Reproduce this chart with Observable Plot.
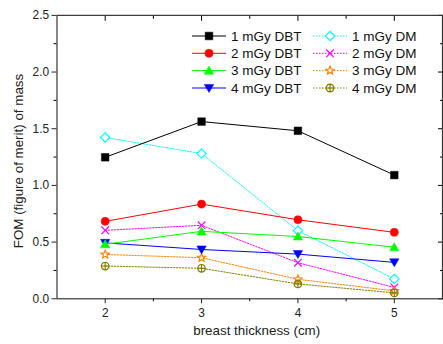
<!DOCTYPE html>
<html><head><meta charset="utf-8">
<script src="https://cdn.jsdelivr.net/npm/d3@7"></script>
<script src="https://cdn.jsdelivr.net/npm/@observablehq/plot@0.6"></script>
<style>
html,body{margin:0;padding:0;overflow:hidden;background:#fff;}
#chart{position:relative;width:443px;height:344px;overflow:hidden;font-family:"Liberation Sans",Arial,sans-serif;}
#chart svg{display:block}
#legend{position:absolute;left:0;top:0}
</style></head><body><div id="chart"></div>
<script>
// ---- data ----
const thickness = [2, 3, 4, 5];
const seriesNames = ["1 mGy DBT","2 mGy DBT","3 mGy DBT","4 mGy DBT","1 mGy DM","2 mGy DM","3 mGy DM","4 mGy DM"];
const dbt1 = [1.248, 1.563, 1.482, 1.091];
const dbt2 = [0.683, 0.835, 0.697, 0.586];
const dbt3 = [0.481, 0.595, 0.549, 0.455];
const dbt4 = [0.493, 0.435, 0.394, 0.321];
const dm1  = [1.423, 1.281, 0.601, 0.175];
const dm2  = [0.604, 0.648, 0.318, 0.100];
const dm3  = [0.391, 0.362, 0.172, 0.070];
const dm4  = [0.289, 0.269, 0.131, 0.052];
const seriesValues = [dbt1, dbt2, dbt3, dbt4, dm1, dm2, dm3, dm4];
const colors = ["#000000","#ff0000","#00ff00","#0000ff","#00ffff","#ff00ff","#ff8000","#808000"];
const xTicks = [2, 3, 4, 5];
const yTicks = [0.0, 0.5, 1.0, 1.5, 2.0, 2.5];

// ---- custom symbols ----
const R = s => Math.sqrt(s / Math.PI);
const symSquare = {draw(c, s){const r=R(s)*0.85; c.rect(-r,-r,2*r,2*r);}};
const symCircle = {draw(c, s){const r=R(s)*0.9; c.moveTo(r,0); c.arc(0,0,r,0,2*Math.PI);}};
const symTriUp = {draw(c, s){const r=R(s); c.moveTo(0,-r*1.0); c.lineTo(r*1.05,r*0.8); c.lineTo(-r*1.05,r*0.8); c.closePath();}};
const symTriDown = {draw(c, s){const r=R(s); c.moveTo(0,r*1.0); c.lineTo(r*1.05,-r*0.8); c.lineTo(-r*1.05,-r*0.8); c.closePath();}};
const symDiamond = {draw(c, s){const r=R(s)*1.05; c.moveTo(0,-r); c.lineTo(r,0); c.lineTo(0,r); c.lineTo(-r,0); c.closePath();}};
const symTimes = {draw(c, s){const r=R(s)*0.85; c.moveTo(-r,-r); c.lineTo(r,r); c.moveTo(r,-r); c.lineTo(-r,r);}};
const symStar = {draw(c, s){const ro=R(s)*0.95, ri=ro*0.45; for(let i=0;i<10;i++){const a=-Math.PI/2+i*Math.PI/5; const rr=i%2?ri:ro; const x=rr*Math.cos(a), y=rr*Math.sin(a); if(i===0) c.moveTo(x,y); else c.lineTo(x,y);} c.closePath();}};
const symOPlus = {draw(c, s){const r=R(s)*0.85; c.moveTo(r,0); c.arc(0,0,r,0,2*Math.PI); c.moveTo(-r,0); c.lineTo(r,0); c.moveTo(0,-r); c.lineTo(0,r);}};
const symbols = [symSquare, symCircle, symTriUp, symTriDown, symDiamond, symTimes, symStar, symOPlus];
const filled = [true, true, true, true, false, false, false, false];

// ---- table ----
const rows = [];
seriesNames.forEach((name, i) => thickness.forEach((t, j) => rows.push({series: name, idx: i, x: t, y: seriesValues[i][j]})));

const marks = [];
// axes
marks.push(Plot.axisX({ticks: xTicks, tickSize: 5, tickPadding: 5, tickFormat: d3.format("d"), fontSize: 12, color: "#222", label: null}));
marks.push(Plot.axisX({ticks: [2.5, 3.5, 4.5], tickSize: 3, tickFormat: null, text: null, label: null}));
marks.push(Plot.axisX({anchor: "top", ticks: xTicks, tickSize: -5, text: null, label: null}));
marks.push(Plot.axisX({anchor: "top", ticks: [2.5, 3.5, 4.5], tickSize: -3, text: null, label: null}));
marks.push(Plot.axisY({ticks: yTicks, tickSize: 5, tickPadding: 3, tickFormat: d3.format(".1f"), fontSize: 12, color: "#222", label: null}));
marks.push(Plot.axisY({ticks: [0.25, 0.75, 1.25, 1.75, 2.25], tickSize: 3, text: null, label: null}));
marks.push(Plot.axisY({anchor: "right", ticks: yTicks, tickSize: -5, text: null, label: null}));
marks.push(Plot.axisY({anchor: "right", ticks: [0.25, 0.75, 1.25, 1.75, 2.25], tickSize: -3, text: null, label: null}));
marks.push(Plot.frame({stroke: "#333", strokeWidth: 1.2}));

// draw order: DM behind, DBT on top
const order = [4, 5, 6, 7, 3, 2, 1, 0];
for (const i of order) {
  const data = rows.filter(d => d.idx === i);
  marks.push(Plot.line(data, {x: "x", y: "y", stroke: colors[i], strokeWidth: 1, strokeDasharray: filled[i] ? null : "1.5,1.5"}));
}
for (const i of order) {
  const data = rows.filter(d => d.idx === i);
  marks.push(Plot.dot(data, {x: "x", y: "y", symbol: symbols[i], r: 4.5,
    fill: filled[i] ? colors[i] : (i === 7 ? "none" : "white"),
    stroke: colors[i], strokeWidth: filled[i] ? 0.5 : 1.2}));
}
// axis titles
marks.push(Plot.text(["FOM (figure of merit) of mass"], {frameAnchor: "left", textAnchor: "middle", lineAnchor: "middle", dx: -39, dy: 4, rotate: -90, fontSize: 13.5, fill: "#222", text: d => d}));
marks.push(Plot.text(["breast thickness (cm)"], {frameAnchor: "bottom", textAnchor: "middle", lineAnchor: "middle", dx: 7, dy: 32, fontSize: 13.5, fill: "#222", text: d => d}));

const chart = Plot.plot({
  width: 447, height: 344,
  marginLeft: 57, marginRight: 1, marginTop: 15, marginBottom: 43,
  style: {fontFamily: "'Liberation Sans', Arial, sans-serif", background: "white", overflow: "visible"},
  x: {domain: [1.5, 5.5]},
  y: {domain: [0, 2.5]},
  marks
});
document.getElementById("chart").appendChild(chart);

// ---- legend overlay ----
const lg = d3.select("#chart").append("svg").attr("id", "legend").attr("width", 443).attr("height", 344);
const legendCols = [[0,1,2,3],[4,5,6,7]];
const colX = [192, 313];
const rowY = [36, 53.3, 70.6, 88];
legendCols.forEach((col, ci) => col.forEach((i, ri) => {
  const x0 = colX[ci], y0 = rowY[ri];
  lg.append("line").attr("x1", x0).attr("x2", x0 + 34).attr("y1", y0).attr("y2", y0)
    .attr("stroke", colors[i]).attr("stroke-width", 1).attr("stroke-dasharray", filled[i] ? null : "1.5,1.5");
  lg.append("path").attr("transform", `translate(${x0 + 17},${y0})`)
    .attr("d", d3.symbol(symbols[i], Math.PI * 4.5 * 4.5)())
    .attr("fill", filled[i] ? colors[i] : (i === 7 ? "none" : "white"))
    .attr("stroke", colors[i]).attr("stroke-width", filled[i] ? 0.5 : 1.2);
  lg.append("text").attr("x", x0 + 39).attr("y", y0).attr("dy", "0.36em")
    .attr("font-size", 13.5).attr("fill", "#111")
    .attr("font-family", "'Liberation Sans', Arial, sans-serif").text(seriesNames[i]);
}));
</script></body></html>
